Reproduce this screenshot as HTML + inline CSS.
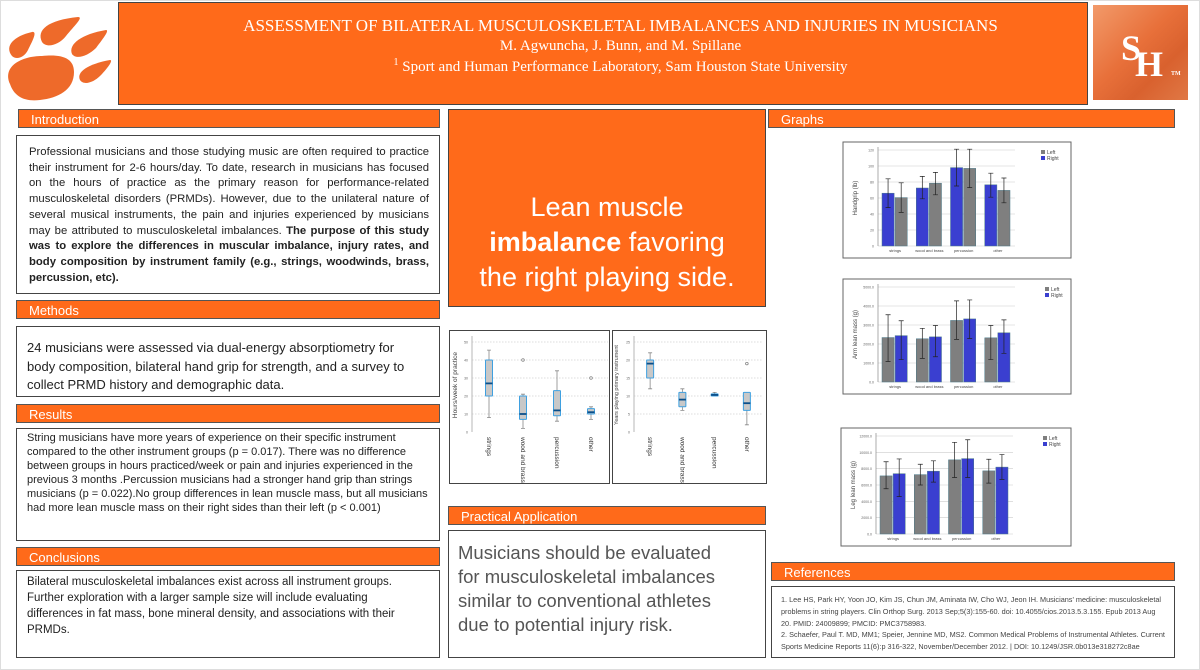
<!DOCTYPE html>
<html><head><meta charset="utf-8">
<style>
*{box-sizing:border-box;margin:0;padding:0}
body{width:1200px;height:670px;background:#fff;font-family:"Liberation Sans",sans-serif;position:relative;overflow:hidden}
.abs{position:absolute}
.hdr{position:absolute;background:#FF6A1A;border:1px solid #555;color:#fff;font-size:13px;padding:1px 0 0 12px;height:19px;line-height:17px}
.box{position:absolute;border:1px solid #444;background:#fff;color:#222}
svg text{font-family:"Liberation Sans",sans-serif}
</style></head><body>
<div class="abs" style="left:0;top:0;width:1200px;height:670px;border:1px solid #ddd"></div>

<svg class="abs" style="left:2px;top:6px" width="112" height="96" viewBox="0 0 112 96">
<g fill="#EE6A2A">
<path d="M8,78 C0,60 20,50 40,50 C60,48 72,52 72,66 C72,84 56,92 38,94 C22,96 12,90 8,78Z"/>
<path d="M10,50 C2,40 12,30 30,26 C36,25 30,36 26,44 C22,52 14,54 10,50Z"/>
<path d="M40,36 C34,24 46,14 76,11 C82,11 72,20 64,30 C56,40 44,42 40,36Z"/>
<path d="M70,48 C66,38 80,28 104,24 C108,24 100,34 94,42 C86,50 74,54 70,48Z"/>
<path d="M78,74 C74,66 86,58 108,54 C112,54 104,64 98,70 C92,76 82,80 78,74Z"/>
</g></svg>

<div class="abs" style="left:118px;top:2px;width:970px;height:103px;background:#FF6A1A;border:1px solid #444;color:#fff;font-family:'Liberation Serif',serif;text-align:center">
<div style="font-size:17px;margin-top:13px;margin-left:35px">ASSESSMENT OF BILATERAL MUSCULOSKELETAL IMBALANCES AND INJURIES IN MUSICIANS</div>
<div style="font-size:15px;margin-top:2px;margin-left:35px">M. Agwuncha, J. Bunn, and M. Spillane</div>
<div style="font-size:15px;margin-top:2px;margin-left:35px"><sup style="font-size:10px">1</sup> Sport and Human Performance Laboratory, Sam Houston State University</div>
</div>

<div class="abs" style="left:1093px;top:5px;width:95px;height:95px;background:linear-gradient(135deg,#F29A6A,#E8703A 45%,#D9612E 70%,#E07845);color:#fff;font-family:'Liberation Serif',serif;font-weight:bold">
<span style="position:absolute;left:28px;top:22px;font-size:36px">S</span><span style="position:absolute;left:42px;top:38px;font-size:36px">H</span><span style="position:absolute;left:78px;top:66px;font-size:6px">TM</span></div>

<!-- Left column -->
<div class="hdr" style="left:18px;top:109px;width:422px">Introduction</div>
<div class="box" style="left:16px;top:135px;width:424px;height:159px;font-size:11.3px;line-height:15.7px;padding:9px 10px 0 12px;text-align:justify">Professional musicians and those studying music are often required to practice their instrument for 2-6 hours/day. To date, research in musicians has focused on the hours of practice as the primary reason for performance-related musculoskeletal disorders (PRMDs). However, due to the unilateral nature of several musical instruments, the pain and injuries experienced by musicians may be attributed to musculoskeletal imbalances. <b>The purpose of this study was to explore the differences in muscular imbalance, injury rates, and body composition by instrument family (e.g., strings, woodwinds, brass, percussion, etc).</b></div>

<div class="hdr" style="left:16px;top:300px;width:424px">Methods</div>
<div class="box" style="left:16px;top:326px;width:424px;height:71px;font-size:13px;line-height:18.5px;padding:12px 24px 0 10px">24 musicians were assessed via dual-energy absorptiometry for body composition, bilateral hand grip for strength, and a survey to collect PRMD history and demographic data.</div>

<div class="hdr" style="left:16px;top:404px;width:424px">Results</div>
<div class="box" style="left:16px;top:428px;width:424px;height:113px;font-size:11px;line-height:14px;padding:2px 8px 0 10px">String musicians have more years of experience on their specific instrument compared to the other instrument groups (p = 0.017). There was no difference between groups in hours practiced/week or pain and injuries experienced in the previous 3 months .Percussion musicians had a stronger hand grip than strings musicians (p = 0.022).No group differences in lean muscle mass, but all musicians had more lean muscle mass on their right sides than their left (p &lt; 0.001)</div>

<div class="hdr" style="left:16px;top:547px;width:424px">Conclusions</div>
<div class="box" style="left:16px;top:570px;width:424px;height:88px;font-size:11.5px;line-height:16px;padding:3px 30px 0 10px">Bilateral musculoskeletal imbalances exist across all instrument groups. Further exploration with a larger sample size will include evaluating differences in fat mass, bone mineral density, and associations with their PRMDs.</div>

<!-- Middle column -->
<div class="abs" style="left:448px;top:109px;width:318px;height:198px;background:#FF6A1A;border:1px solid #444;color:#fff;font-size:27px;line-height:35px;text-align:center;padding-top:80px">Lean muscle<br><b>imbalance</b> favoring<br>the right playing side.</div>

<div class="box" style="left:449px;top:330px;width:161px;height:154px"></div>
<div class="box" style="left:612px;top:330px;width:155px;height:154px"></div>
<svg id="bp" class="abs" style="left:0;top:0" width="1200" height="670"></svg>

<div class="hdr" style="left:448px;top:506px;width:318px">Practical Application</div>
<div class="box" style="left:448px;top:530px;width:318px;height:128px;font-size:18.5px;line-height:24px;color:#555;padding:10px 30px 0 9px">Musicians should be evaluated for musculoskeletal imbalances similar to conventional athletes due to potential injury risk.</div>

<!-- Right column -->
<div class="hdr" style="left:768px;top:109px;width:407px">Graphs</div>
<svg id="bars" class="abs" style="left:0;top:0" width="1200" height="670"></svg>

<div class="hdr" style="left:771px;top:562px;width:404px">References</div>
<div class="box" style="left:771px;top:586px;width:404px;height:72px;font-size:7.3px;line-height:11.8px;color:#444;padding:7px 8px 0 9px">1. Lee HS, Park HY, Yoon JO, Kim JS, Chun JM, Aminata IW, Cho WJ, Jeon IH. Musicians' medicine: musculoskeletal problems in string players. Clin Orthop Surg. 2013 Sep;5(3):155-60. doi: 10.4055/cios.2013.5.3.155. Epub 2013 Aug 20. PMID: 24009899; PMCID: PMC3758983.<br>2. Schaefer, Paul T. MD, MM1; Speier, Jennine MD, MS2. Common Medical Problems of Instrumental Athletes. Current Sports Medicine Reports 11(6):p 316-322, November/December 2012. | DOI: 10.1249/JSR.0b013e318272c8ae</div>

<script>
const NS="http://www.w3.org/2000/svg";
// ---- bar chart data ----
const groups=["strings","wood and brass","percussion","other"];
const gripFirst=[66,72.5,98,76.5];
const gripFirstErr=[[48,84],[59,87],[75,121],[61,91]];
const gripSecond=[60.5,78.5,97,69.5];
const gripSecondErr=[[42,79],[64,92],[73,121],[54,85]];
const gripTicks=[0,20,40,60,80,100,120];
const armLeft=[2340,2275,3240,2325];
const armLeftErr=[[1080,3540],[1245,2825],[2245,4270],[1180,2975]];
const armRight=[2440,2375,3320,2590];
const armRightErr=[[1180,3225],[1330,2975],[2290,4320],[1510,3270]];
const armTicks=[0,1000,2000,3000,4000,5000];
const legLeft=[7115,7270,9080,7730];
const legLeftErr=[[5540,8850],[6000,8540],[6920,11230],[6230,9150]];
const legRight=[7385,7690,9230,8190];
const legRightErr=[[4580,9190],[6350,8960],[6920,11540],[6690,9730]];
const legTicks=[0,2000,4000,6000,8000,10000,12000];
// ---- boxplot data ----
const bpCats=["strings","wood and brass","percussion","other"];
const hoursStats=[[8,20,27,40,45.5],[2,7,10,20,21],[6,9,12,23,34],[7,10,11,13,14]];
const hoursOutliers=[[],[40],[],[30]];
const hoursTicks=[0,10,20,30,40,50];
const yearsStats=[[12,15,19,20,22],[6,7,9,11,12],[10,10,10.3,10.6,11],[2,6,8,11,11]];
const yearsOutliers=[[],[],[],[19]];
const yearsTicks=[0,5,10,15,20,25];

function mk(parent,tag,attrs,text){const e=document.createElementNS(NS,tag);for(const k in attrs)e.setAttribute(k,attrs[k]);if(text!==undefined)e.textContent=text;parent.appendChild(e);return e;}

const GREY="#7F7F7F",BLUE="#3A3FD0";
function barChart(svg,opt){
  const g=mk(svg,"g",{});
  
  
  const fr=mk(g,"rect",{x:opt.x,y:opt.y,width:opt.w,height:opt.h,fill:"#fff",stroke:"#666","stroke-width":1});
  
  
  const px0=opt.x+35,px1=opt.x+172,py0=opt.y+opt.h-12,py1=opt.y+8;
  const tmax=opt.ticks[opt.ticks.length-1];
  const ys=v=>py0-(v/tmax)*(py0-py1);
  const bw=(px1-px0)/groups.length;
  const xs=i=>px0+bw*i;
  opt.ticks.forEach(t=>{
    const l=mk(g,"line",{x1:px0,x2:px1,y1:ys(t),y2:ys(t),stroke:"#ccc","stroke-width":0.6});
    
    
    const tx=mk(g,"text",{x:px0-4,y:ys(t)+1.5,"font-size":3.5,fill:"#666","text-anchor":"end"},opt.fmt(t));
    
    
  });
  mk(g,"line",{x1:px0,x2:px0,y1:py1-3,y2:py0,stroke:"#888","stroke-width":0.7});
  const yt=mk(g,"text",{x:0,y:0,"font-size":6,fill:"#444","text-anchor":"middle",transform:`translate(${opt.x+14},${(py0+py1)/2}) rotate(-90)`},opt.ylabel);
  
  
  [[opt.s1,opt.e1,opt.c1,0],[opt.s2,opt.e2,opt.c2,1]].forEach(([vals,errs,col,k])=>{
    vals.forEach((v,i)=>{
      const bx=xs(i)+4+k*(bw-8)/2, w=(bw-8)/2-1;
      const r=mk(g,"rect",{x:bx,y:ys(v),width:w,height:py0-ys(v),fill:col,stroke:"#4a7a8a","stroke-width":0.5});
      
      
      const cx=bx+w/2,[lo,hi]=errs[i];
      const eb=mk(g,"path",{d:`M${cx},${ys(lo)}V${ys(hi)}M${cx-2.5},${ys(lo)}h5M${cx-2.5},${ys(hi)}h5`,stroke:"#222","stroke-width":0.7,fill:"none"});
      
      
    });
  });
  groups.forEach((c,i)=>{
    const t=mk(g,"text",{x:xs(i)+bw/2,y:py0+6,"font-size":4,fill:"#444","text-anchor":"middle"},c);
    
    
  });
  [["Left",GREY],["Right",BLUE]].forEach(([n,c],j)=>{
    const lx=opt.x+opt.w-30+opt.legdx,ly=opt.y+12+j*6;
    const s=mk(g,"rect",{x:lx,y:ly-4,width:4,height:4,fill:c});
    
    
    const t=mk(g,"text",{x:lx+6,y:ly,"font-size":5,fill:"#444"},n);
    
    
  });
}
const bars=document.getElementById("bars");
barChart(bars,{name:"handgrip-chart",x:843,y:142,w:228,h:116,ticks:gripTicks,fmt:t=>String(t),ylabel:"Handgrip (lb)",s1:gripFirst,e1:gripFirstErr,c1:BLUE,s2:gripSecond,e2:gripSecondErr,c2:GREY,legdx:0});
barChart(bars,{name:"arm-lean-mass-chart",x:843,y:279,w:228,h:115,ticks:armTicks,fmt:t=>t.toFixed(1),ylabel:"Arm lean mass (g)",s1:armLeft,e1:armLeftErr,c1:GREY,s2:armRight,e2:armRightErr,c2:BLUE,legdx:4});
barChart(bars,{name:"leg-lean-mass-chart",x:841,y:428,w:230,h:118,ticks:legTicks,fmt:t=>t.toFixed(1),ylabel:"Leg lean mass (g)",s1:legLeft,e1:legLeftErr,c1:GREY,s2:legRight,e2:legRightErr,c2:BLUE,legdx:2});

function boxPlot(svg,opt){
  const g=mk(svg,"g",{});
  
  
  const tmax=opt.ticks[opt.ticks.length-1];
  const ys=v=>opt.py0-(v/tmax)*(opt.py0-opt.py1);
  const bw=(opt.px1-opt.px0)/bpCats.length;
  const xs=i=>opt.px0+bw*(i+0.5);
  mk(g,"line",{x1:opt.px0,x2:opt.px0,y1:opt.py1-6,y2:opt.py0,stroke:"#999","stroke-width":0.7});
  opt.ticks.forEach(t=>{
    if(t>0){const l=mk(g,"line",{x1:opt.px0,x2:opt.px1,y1:ys(t),y2:ys(t),stroke:"#bbb","stroke-width":0.6,"stroke-dasharray":"1.5,1.5"});
    
    }
    const tx=mk(g,"text",{x:opt.px0-4,y:ys(t)+1.5,"font-size":3.5,fill:"#666","text-anchor":"end"},t);
    
    
  });
  const yt=mk(g,"text",{x:0,y:0,"font-size":opt.yfs,fill:"#444","text-anchor":"middle",transform:`translate(${opt.ylx},${opt.yly}) rotate(-90)`},opt.ylabel);
  
  
  opt.stats.forEach((s,i)=>{
    const cx=xs(i),w=7;
    const wk=mk(g,"path",{d:`M${cx},${ys(s[0])}V${ys(s[4])}M${cx-2},${ys(s[0])}h4M${cx-2},${ys(s[4])}h4`,stroke:"#888","stroke-width":0.8,fill:"none"});
    
    
    const b=mk(g,"rect",{x:cx-w/2,y:ys(s[3]),width:w,height:Math.max(1,ys(s[1])-ys(s[3])),fill:"#C8C8C8",stroke:"#3FA0E0","stroke-width":1,rx:0.5});
    
    
    const m=mk(g,"line",{x1:cx-w/2,x2:cx+w/2,y1:ys(s[2]),y2:ys(s[2]),stroke:"#0B4F8A","stroke-width":1.8});
    
    
    opt.out[i].forEach(o=>{
      const c=mk(g,"circle",{cx:cx,cy:ys(o),r:1.3,fill:"none",stroke:"#777","stroke-width":0.7});
      
      
    });
    const t=mk(g,"text",{x:0,y:0,"font-size":6.5,fill:"#333",transform:`translate(${cx-2},${opt.py0+5}) rotate(90)`},bpCats[i]);
    
    
  });
}
const bp=document.getElementById("bp");
boxPlot(bp,{name:"hours-per-week-boxplot",px0:472,px1:608,py0:432,py1:342,ticks:hoursTicks,stats:hoursStats,out:hoursOutliers,ylabel:"Hours/week of practice",ylx:457,yly:385,yfs:6.5});
boxPlot(bp,{name:"years-playing-boxplot",px0:634,px1:763,py0:432,py1:342,ticks:yearsTicks,stats:yearsStats,out:yearsOutliers,ylabel:"Years playing primary instrument",ylx:618,yly:385,yfs:5.5});
</script>
</body></html>
